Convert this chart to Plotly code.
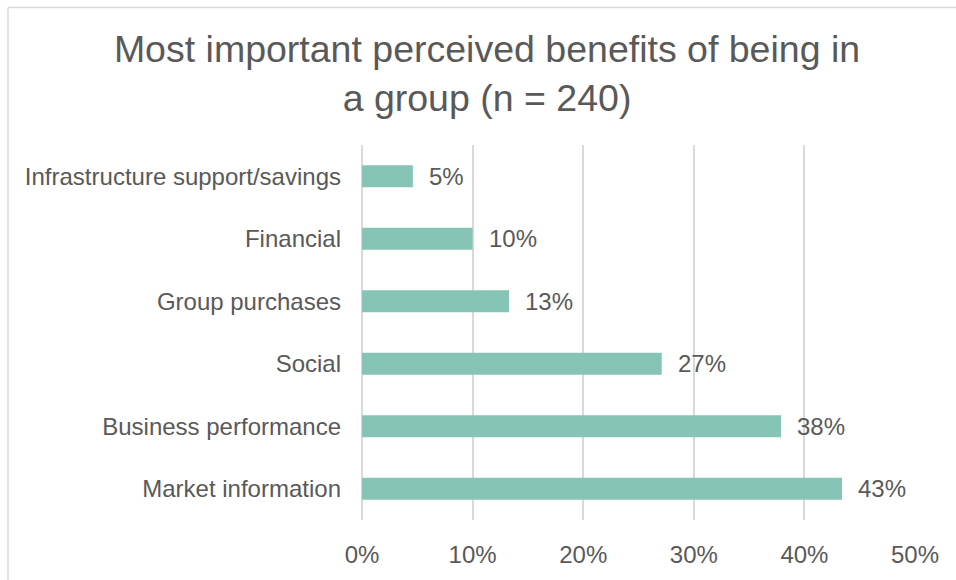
import plotly.graph_objects as go

# Survey results: share of respondents naming each benefit (percent)
categories = [
    "Market information",
    "Business performance",
    "Social",
    "Group purchases",
    "Financial",
    "Infrastructure support/savings",
]
shares = [43.4, 37.9, 27.1, 13.3, 10.0, 4.6]
x_ticks = [0, 10, 20, 30, 40, 50]
x_tick_labels = ["0%", "10%", "20%", "30%", "40%", "50%"]

W, H = 956, 580
M_L, M_R, M_T, M_B = 362, 41, 145, 57
TEXT = "#595959"
GRID = "#D9D9D9"
BAR = "#86C5B6"
FONT = "Liberation Sans, Arial, sans-serif"

fig = go.Figure(
    go.Bar(
        x=shares,
        y=categories,
        orientation="h",
        width=0.35,
        marker=dict(color=BAR, line=dict(width=0)),
        hoverinfo="skip",
    )
)

# Value labels to the right of each bar
for cat, v in zip(categories, shares):
    fig.add_annotation(
        x=v, y=cat, xref="x", yref="y",
        text=f"{v:.0f}%", showarrow=False,
        xanchor="left", yanchor="middle", xshift=14,
        font=dict(size=24, color=TEXT, family=FONT),
    )

# Thin frame around the chart area (top and left edges)
pw = W - M_L - M_R
ph = H - M_T - M_B
def px_to_paper_x(px):
    return (px - M_L) / pw
def px_to_paper_y(py):
    return (H - M_B - py) / ph

fig.add_shape(type="line", xref="paper", yref="paper",
              x0=px_to_paper_x(8), x1=px_to_paper_x(W + 20),
              y0=px_to_paper_y(6.5), y1=px_to_paper_y(6.5),
              line=dict(color=GRID, width=1.5))
fig.add_shape(type="line", xref="paper", yref="paper",
              x0=px_to_paper_x(8), x1=px_to_paper_x(8),
              y0=px_to_paper_y(6.5), y1=px_to_paper_y(H + 20),
              line=dict(color=GRID, width=1.5))

fig.update_layout(
    width=W, height=H,
    margin=dict(l=M_L, r=M_R, t=M_T, b=M_B),
    paper_bgcolor="white", plot_bgcolor="white",
    showlegend=False,
    font=dict(family=FONT, color=TEXT, size=24),
    title=dict(
        text="Most important perceived benefits of being in<br>a group (n = 240)",
        x=487 / W, xanchor="center", xref="container",
        y=1 - 62 / H, yanchor="middle", yref="container",
        font=dict(size=37.5, color=TEXT, family=FONT),
    ),
    xaxis=dict(
        range=[0, 50],
        tickvals=x_ticks, ticktext=x_tick_labels,
        showgrid=True, gridcolor=GRID, gridwidth=1.5,
        zeroline=True, zerolinecolor=GRID, zerolinewidth=1.5,
        showline=False, ticks="",
        ticklabelstandoff=18,
        tickfont=dict(size=24, color=TEXT),
        fixedrange=True,
    ),
    yaxis=dict(
        categoryorder="array", categoryarray=categories,
        showgrid=False, zeroline=False, showline=False, ticks="",
        ticklabelstandoff=20,
        tickfont=dict(size=24, color=TEXT),
        fixedrange=True,
    ),
)

fig.write_html("out.html")
